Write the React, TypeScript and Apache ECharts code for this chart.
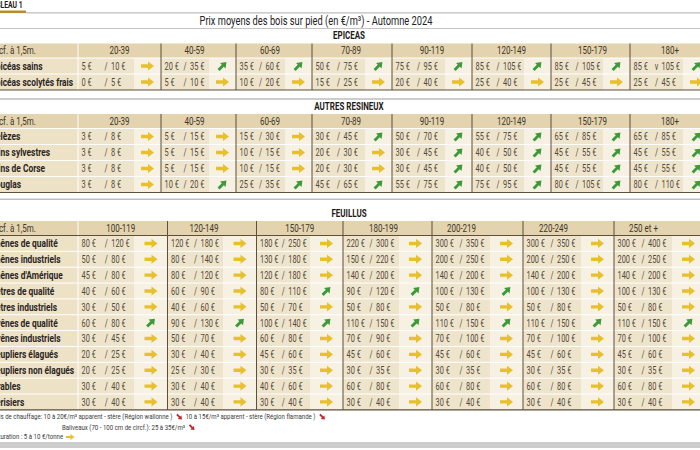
import React, { useEffect, useRef } from "react";
import * as echarts from "echarts";

// ---------- texts ----------
const tableTag = "TABLEAU 1";
const chartTitle = "Prix moyens des bois sur pied (en €/m³) - Automne 2024";
const circLabel = "Circf. à 1,5m.";

// ---------- classes (column headers) ----------
const resineuxClasses = ["20-39", "40-59", "60-69", "70-89", "90-119", "120-149", "150-179", "180+"];
const feuillusClasses = ["100-119", "120-149", "150-179", "180-199", "200-219", "220-249", "250 et +"];

// ---------- EPICEAS ----------
const epiceaNames = ["Epicéas sains", "Epicéas scolytés frais"];
const epiceaLow = [
  [5, 20, 35, 50, 75, 85, 85, 85],
  [0, 5, 10, 15, 20, 25, 25, 25],
];
const epiceaHigh = [
  [10, 35, 60, 75, 95, 105, 105, 105],
  [5, 10, 20, 25, 40, 40, 45, 45],
];
const epiceaTrend = ["→↗↗↗↗↗↗↗", "→→→→→→→→"];
const epiceaSeparators = ["///////v", "////////"];

// ---------- AUTRES RESINEUX ----------
const resineuxNames = ["Mélèzes", "Pins sylvestres", "Pins de Corse", "Douglas"];
const resineuxLow = [
  [3, 5, 15, 30, 50, 55, 65, 65],
  [3, 5, 10, 20, 30, 40, 45, 45],
  [3, 5, 10, 20, 30, 40, 45, 45],
  [3, 10, 25, 45, 55, 75, 80, 80],
];
const resineuxHigh = [
  [8, 15, 30, 45, 70, 75, 85, 85],
  [8, 15, 15, 30, 45, 50, 55, 55],
  [8, 15, 15, 30, 45, 50, 55, 55],
  [8, 20, 35, 65, 75, 95, 105, 110],
];
const resineuxTrend = ["→→→↗↗↗↗↗", "→→→→↗↗↗↗", "→→→→↗↗↗↗", "→↗↗↗↗↗↗↗"];

// ---------- FEUILLUS ----------
const feuillusNames = [
  "Chênes de qualité",
  "Chênes industriels",
  "Chênes d'Amérique",
  "Hêtres de qualité",
  "Hêtres industriels",
  "Frênes de qualité",
  "Frênes industriels",
  "Peupliers élagués",
  "Peupliers non élagués",
  "Erables",
  "Merisiers",
];
const feuillusLow = [
  [80, 120, 180, 220, 300, 300, 300],
  [50, 80, 130, 150, 200, 200, 200],
  [45, 80, 120, 140, 140, 140, 140],
  [40, 60, 80, 90, 100, 100, 100],
  [30, 40, 50, 50, 50, 50, 50],
  [60, 90, 100, 110, 110, 110, 110],
  [30, 50, 60, 70, 70, 70, 70],
  [20, 30, 45, 45, 45, 45, 45],
  [20, 25, 30, 30, 30, 30, 30],
  [30, 30, 40, 60, 60, 60, 60],
  [30, 30, 30, 30, 30, 30, 30],
];
const feuillusHigh = [
  [120, 180, 250, 300, 350, 350, 400],
  [80, 140, 180, 220, 250, 250, 250],
  [80, 120, 180, 200, 200, 200, 200],
  [60, 90, 110, 120, 130, 130, 130],
  [50, 60, 70, 80, 80, 80, 80],
  [80, 130, 140, 150, 150, 150, 150],
  [45, 70, 80, 90, 100, 100, 100],
  [25, 40, 60, 60, 60, 60, 60],
  [25, 30, 35, 35, 35, 35, 35],
  [40, 40, 60, 80, 80, 80, 80],
  [40, 40, 40, 40, 40, 40, 40],
];
const feuillusTrend = [
  "→→→→→→→",
  "→→→→→→→",
  "→→→→→→→",
  "→→↗↗↗→→",
  "→→→→→→→",
  "↗↗↗↗↗↗↗",
  "→→→→→→→",
  "→→→→→→→",
  "→→→→→→→",
  "→→→→→→→",
  "→→→→→→→",
];

// ---------- footer notes ----------
const footerNotes = [
  ["Bois de chauffage: 10 à 20€/m³ apparent - stère (Région wallonne )", "↘", "10 à 15€/m³ apparent - stère (Région flamande )", "↘"],
  ["Baliveaux (70 - 100 cm de circf.): 25 à 35€/m³", "↘"],
  ["Trituration : 5 à 10 €/tonne", "→"],
];

// ---------- styling ----------
const FONT = "Roboto, 'Noto Sans', sans-serif";
const SX = 0.8;
const HEADER_BG = "#e3d3ae";
const LABEL_BG = "#ede2c6";
const VALUE_BG = "#eee4cb";
const ARROW_BG = "#f7f1e3";
const DARK_LINE = "#5d4f3c";
const VALUE_COLOR = "#54493b";
const LABEL_COLOR = "#2b251f";

let measureCtx: CanvasRenderingContext2D | null = null;
function textWidth(t: string, size: number, weight = "normal", sx = SX): number {
  if (!measureCtx) measureCtx = document.createElement("canvas").getContext("2d");
  measureCtx!.font = `${weight} ${size}px Roboto`;
  return measureCtx!.measureText(t).width * sx;
}

function txt(text: string, x: number, y: number, size: number, o: any = {}) {
  const align = o.align || "left";
  return {
    type: "text",
    x,
    y,
    scaleX: o.sx ?? SX,
    silent: true,
    z: 10,
    style: {
      text,
      fontSize: size,
      fontFamily: FONT,
      fontWeight: o.weight || "normal",
      fill: o.color || VALUE_COLOR,
      align,
      textAlign: align,
      verticalAlign: "middle",
      textVerticalAlign: "middle",
    },
  };
}

function rect(x: number, y: number, w: number, h: number, fill: string, z = 1) {
  return { type: "rect", silent: true, z, shape: { x, y, width: w, height: h }, style: { fill } };
}

function hline(x1: number, x2: number, y: number, color: string, w = 1, z = 5) {
  return { type: "line", silent: true, z, shape: { x1, y1: y, x2, y2: y }, style: { stroke: color, lineWidth: w } };
}
function vline(x: number, y1: number, y2: number, color: string, w = 1, z = 5) {
  return { type: "line", silent: true, z, shape: { x1: x, y1, x2: x, y2 }, style: { stroke: color, lineWidth: w } };
}

const arrowPts = [
  [-6.5, -1.7],
  [0.5, -1.7],
  [0.5, -4.6],
  [6.5, 0],
  [0.5, 4.6],
  [0.5, 1.7],
  [-6.5, 1.7],
];
function arrow(sym: string, cx: number, cy: number, scale = 1) {
  const up = sym === "↗";
  const down = sym === "↘";
  const color = up ? "#3d9a3a" : down ? "#c4262e" : "#e7c02c";
  const rot = up ? Math.PI / 4 : down ? -Math.PI / 4 : 0;
  const s = (up || down ? 0.85 : 1) * scale;
  return {
    type: "polygon",
    x: cx,
    y: cy,
    rotation: rot,
    scaleX: s,
    scaleY: s,
    silent: true,
    z: 10,
    shape: { points: arrowPts },
    style: { fill: color },
  };
}

type Section = {
  title: string;
  titleY: number;
  top: number;
  headerH: number;
  rowH: number;
  bounds: number[];
  arrowW: number;
  headerShift: number[];
  classes: string[];
  names: string[];
  low: number[][];
  high: number[][];
  trend: string[];
  seps?: string[];
  darkHeaderLine: boolean;
};

const LABEL_CUT = 2; // leading letters cropped off by the picture's left edge
const VSX = 0.74;

function buildSection(s: Section, els: any[]) {
  const n = s.names.length;
  const bodyTop = s.top + s.headerH;
  const bottom = bodyTop + n * s.rowH;
  const b = s.bounds;
  els.push(txt(s.title, 349, s.titleY, 10, { weight: "bold", color: "#1e1a16", align: "center" }));
  els.push(rect(0, s.top, 700, s.headerH, HEADER_BG));
  const hy = s.top + s.headerH / 2;
  els.push(txt(circLabel, -1 - textWidth(circLabel.slice(0, 3), 10), hy, 10, { color: "#3f362a" }));
  s.classes.forEach((c, i) => {
    els.push(txt(c, (b[i] + b[i + 1]) / 2 + s.headerShift[i], hy, 10, { align: "center", color: "#3f362a" }));
  });
  for (let r = 0; r < n; r++) {
    const y = bodyTop + r * s.rowH;
    const cy = y + s.rowH / 2;
    els.push(rect(0, y, b[0], s.rowH, LABEL_BG));
    const name = s.names[r];
    els.push(
      txt(name, 0.5 - textWidth(name.slice(0, LABEL_CUT), 10.5, "bold"), cy, 10.5, {
        weight: "bold",
        color: LABEL_COLOR,
      })
    );
    const trendChars = Array.from(s.trend[r]);
    for (let c = 0; c < s.classes.length; c++) {
      const x0 = b[c];
      const x1 = b[c + 1];
      const wv = x1 - x0 - s.arrowW;
      els.push(rect(x0, y, wv, s.rowH, VALUE_BG));
      els.push(rect(x0 + wv, y, s.arrowW, s.rowH, ARROW_BG));
      const sep = s.seps ? s.seps[r][c] : "/";
      const slashX = x0 + 0.5 * wv;
      els.push(txt(`${s.low[r][c]} €`, x0 + 3.5, cy + 0.5, 10, { sx: VSX }));
      els.push(txt(sep, slashX, cy + 0.5, 10, { sx: VSX, align: "center" }));
      els.push(txt(`${s.high[r][c]} €`, slashX + 5, cy + 0.5, 10, { sx: VSX }));
      els.push(arrow(trendChars[c], x0 + wv + s.arrowW / 2, cy));
    }
  }
  for (let r = 0; r < n; r++) {
    els.push(hline(0, 700, bodyTop + r * s.rowH, "#ffffff", 1, 4));
  }
  els.push(vline(b[0], s.top, bottom, "#ffffff", 1, 4));
  if (s.darkHeaderLine) els.push(hline(0, 700, bodyTop, DARK_LINE, 1, 6));
  for (let i = 1; i < b.length - 1; i++) {
    els.push(vline(b[i], s.top, bottom, DARK_LINE, 1, 6));
  }
  els.push(hline(0, 700, bottom, DARK_LINE, 1.2, 6));
}

const resBounds = [78, 161, 236, 312, 392, 472, 551, 630, 710];
const feuBounds = [78, 167.5, 256.5, 343, 432, 523, 614, 705];
const resHeaderShift = [0, -4, -4, -1, 0, 0, 2, 0];
const feuHeaderShift = [-2, -8, 0, -4, -16, -15, -16];

function buildElements() {
  const els: any[] = [];
  // top tag and title
  els.push(txt(tableTag, 0.5 - textWidth(tableTag.slice(0, 3), 8.5, "bold"), 5, 8.5, { weight: "bold", color: "#1e1a16" }));
  els.push(rect(0, 10.5, 26, 2.6, "#b98a2e", 3));
  els.push(hline(26, 700, 12.8, "#bdbdbd", 1.2));
  els.push(txt(chartTitle, 316, 21, 13, { align: "center", color: "#222222", sx: 0.715 }));
  els.push(hline(0, 700, 28.5, "#c4c4c4", 1.2));
  els.push(hline(0, 700, 99, "#bdbdbd", 1.6));
  els.push(hline(0, 700, 199.3, "#bdbdbd", 1.6));
  els.push(rect(0, 442, 700, 6, "#cdcdcd", 3));

  buildSection(
    {
      title: "EPICEAS", titleY: 36, top: 43.5, headerH: 14.5, rowH: 16, bounds: resBounds, arrowW: 27,
      headerShift: resHeaderShift, classes: resineuxClasses, names: epiceaNames, low: epiceaLow, high: epiceaHigh,
      trend: epiceaTrend, seps: epiceaSeparators, darkHeaderLine: false,
    },
    els
  );
  buildSection(
    {
      title: "AUTRES RESINEUX", titleY: 107, top: 114, headerH: 14.5, rowH: 16, bounds: resBounds, arrowW: 27,
      headerShift: resHeaderShift, classes: resineuxClasses, names: resineuxNames, low: resineuxLow, high: resineuxHigh,
      trend: resineuxTrend, darkHeaderLine: false,
    },
    els
  );
  buildSection(
    {
      title: "FEUILLUS", titleY: 214, top: 221, headerH: 14.5, rowH: 15.85, bounds: feuBounds, arrowW: 33,
      headerShift: feuHeaderShift, classes: feuillusClasses, names: feuillusNames, low: feuillusLow, high: feuillusHigh,
      trend: feuillusTrend, darkHeaderLine: true,
    },
    els
  );

  // footer notes
  const fsize = 7.6;
  const fy = [417, 427.5, 437];
  const fx = [0.5 - textWidth(footerNotes[0][0].slice(0, 3), fsize), 62, 0.5 - textWidth(footerNotes[2][0].slice(0, 4), fsize)];
  footerNotes.forEach((parts, i) => {
    let x = fx[i];
    parts.forEach((p) => {
      if (p === "↘" || p === "→") {
        els.push(arrow(p, x + 4, fy[i], 0.65));
        x += 10;
      } else {
        els.push(txt(p, x, fy[i], fsize, { color: "#3a3a3a" }));
        x += textWidth(p, fsize) + 3;
      }
    });
  });
  return els;
}

export default function App() {
  const ref = useRef<HTMLDivElement>(null);
  useEffect(() => {
    if (!ref.current) return;
    const chart = echarts.init(ref.current, null, { renderer: "svg" });
    chart.setOption({
      animation: false,
      backgroundColor: "#ffffff",
      graphic: { elements: buildElements() },
    });
    return () => chart.dispose();
  }, []);
  return (
    <div
      ref={ref}
      style={{ position: "fixed", left: 0, top: 0, width: 700, height: 450, background: "#fff" }}
    />
  );
}
